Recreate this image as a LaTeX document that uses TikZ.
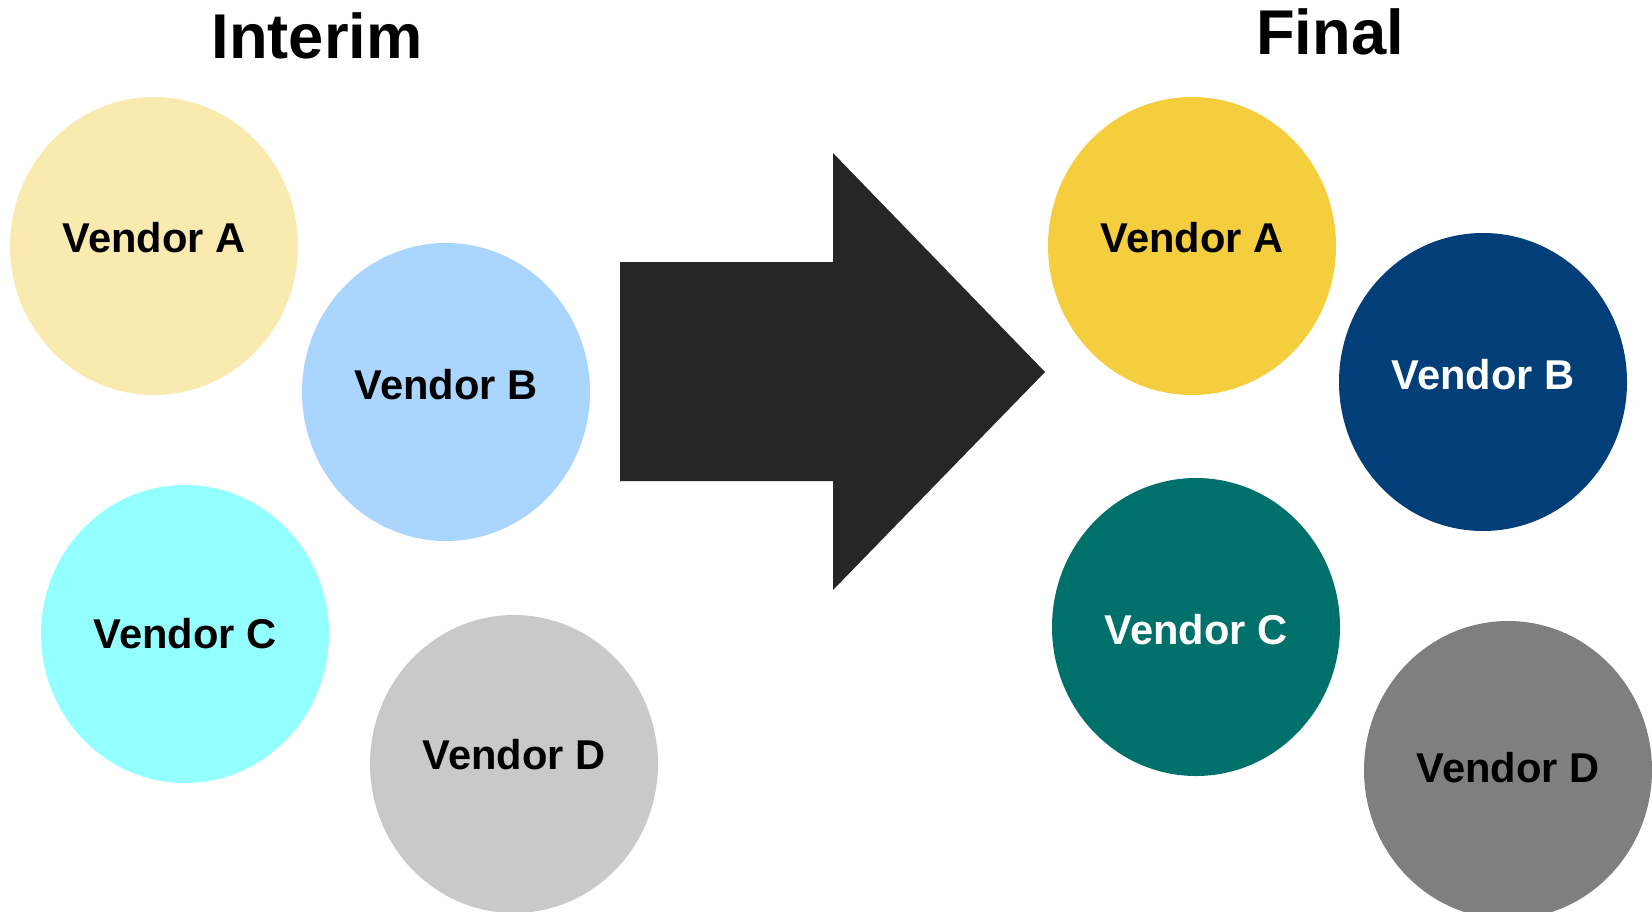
\documentclass[tikz,border=0pt]{standalone}
\usepackage{fontspec}
\setmainfont{Liberation Sans}
\usetikzlibrary{shapes.geometric}

\definecolor{paleA}{HTML}{F9EAB0}
\definecolor{paleB}{HTML}{A9D5FF}
\definecolor{paleC}{HTML}{94FFFF}
\definecolor{paleD}{HTML}{C9C9C9}
\definecolor{fullA}{HTML}{F4CE3C}
\definecolor{fullB}{HTML}{023E78}
\definecolor{fullC}{HTML}{00706B}
\definecolor{fullD}{HTML}{7F7F7F}
\definecolor{arrowgray}{HTML}{262626}

\begin{document}
\begin{tikzpicture}
[x=0.2mm,y=-0.2mm,
 every node/.style={inner sep=0mm,outer sep=0mm,font=\bfseries\fontsize{23.7}{28}\selectfont},
 vendor/.style={ellipse,minimum width=57.6mm,minimum height=59.6mm},
 up/.style={text depth=#1},
 heading/.style={font=\bfseries\fontsize{36}{42}\selectfont},
 dark/.style={text=white}]
\useasboundingbox (0,0) rectangle (1652,912);
\clip (0,0) rectangle (1652,912);

\node[heading] (tInt) at (317,36) {Interim};
\node[heading] (tFin) at (1330,32) {Final};

% interim vendors
\node[vendor,fill=paleA,up=9.6pt]  (iA) at (154,246) {Vendor A};
\node[vendor,fill=paleB,up=8.4pt]  (iB) at (446,392) {Vendor B};
\node[vendor,fill=paleC,up=1.1pt]  (iC) at (185,634) {Vendor C};
\node[vendor,fill=paleD,up=10.8pt] (iD) at (514,764) {Vendor D};

% big arrow
\fill[arrowgray] (620,262) -- (833,262) -- (833,153) -- (1045,372)
  -- (833,590) -- (833,481) -- (620,481) -- cycle;

% final vendors
\node[vendor,fill=fullA,up=9.6pt]                   (fA) at (1192,246) {Vendor A};
\node[vendor,fill=fullB,dark,up=8.4pt]              (fB) at (1483,382) {Vendor B};
\node[vendor,fill=fullC,dark,text height=19.6pt]    (fC) at (1196,627) {Vendor C};
\node[vendor,fill=fullD,up=3.4pt]                   (fD) at (1508,770) {Vendor D};
\end{tikzpicture}
\end{document}
